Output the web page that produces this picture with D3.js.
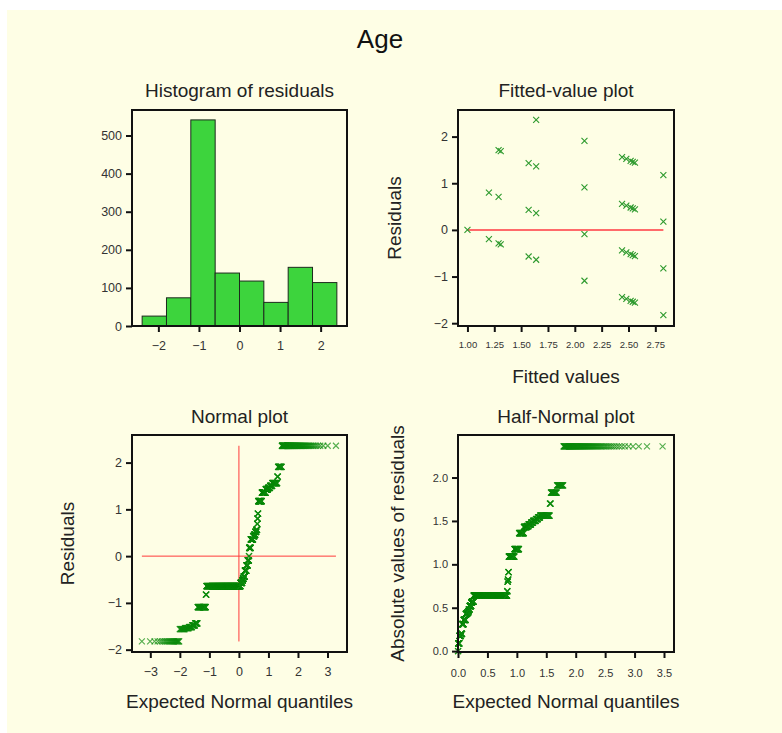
<!DOCTYPE html>
<html><head><meta charset="utf-8">
<script src="https://cdn.jsdelivr.net/npm/d3@7"></script>
<style>body{margin:0;background:#fff}svg{display:block}</style>
</head><body><svg id="c" width="782" height="733"></svg>
<script>
// ---------- data ----------
const chartTitle = "Age";
const histBinEdges = [-2.4, -1.8, -1.2, -0.6, 0, 0.6, 1.2, 1.8, 2.4];
const histCounts   = [26, 74, 541, 139, 118, 62, 154, 114];
const histXTicks   = [-2, -1, 0, 1, 2];
const histYTicks   = [0, 100, 200, 300, 400, 500];

const fittedValues = [1.00, 1.20, 1.20, 1.29, 1.29, 1.29, 1.31, 1.31,
  1.57, 1.57, 1.57, 1.64, 1.64, 1.64, 1.64, 2.09, 2.09, 2.09, 2.09,
  2.44, 2.44, 2.44, 2.44, 2.48, 2.48, 2.48, 2.48, 2.52, 2.52, 2.52, 2.52,
  2.54, 2.54, 2.54, 2.54, 2.56, 2.56, 2.56, 2.56, 2.825, 2.825, 2.825, 2.825];
const fittedResiduals = [0.00, 0.80, -0.20, 1.71, 0.71, -0.29, 1.69, -0.31,
  1.43, 0.43, -0.57, 2.36, 1.36, 0.36, -0.64, 1.91, 0.91, -0.09, -1.09,
  1.56, 0.56, -0.44, -1.44, 1.52, 0.52, -0.48, -1.48, 1.48, 0.48, -0.52, -1.52,
  1.46, 0.46, -0.54, -1.54, 1.44, 0.44, -0.56, -1.56, 1.175, 0.175, -0.825, -1.825];
const fittedXTicks = [1.00, 1.25, 1.50, 1.75, 2.00, 2.25, 2.50, 2.75];
const fittedYTicks = [-2, -1, 0, 1, 2];

// residual values (sorted) and how many observations share each value
const residualLevels = [-1.825, -1.56, -1.54, -1.52, -1.48, -1.44, -1.09, -0.825, -0.64,
  -0.57, -0.52, -0.48, -0.44, -0.31, -0.20, -0.09, 0.00, 0.175, 0.36, 0.43, 0.46, 0.52,
  0.56, 0.69, 0.80, 0.91, 1.175, 1.36, 1.43, 1.46, 1.50, 1.56, 1.70, 1.91, 2.36];
const residualCounts = [27, 14, 14, 14, 15, 15, 62, 5, 474,
  28, 12, 12, 20, 25, 20, 20, 3, 25, 35, 20, 12, 14,
  12, 4, 5, 5, 47, 45, 25, 20, 20, 40, 5, 24, 90];
const normalXTicks = [-3, -2, -1, 0, 1, 2, 3];
const normalYTicks = [-2, -1, 0, 1, 2];
const halfXTicks = [0, 0.5, 1.0, 1.5, 2.0, 2.5, 3.0, 3.5];
const halfYTicks = [0, 0.5, 1.0, 1.5, 2.0];

// ---------- helpers ----------
function invNorm(p) {
  const a = [-3.969683028665376e+01, 2.209460984245205e+02, -2.759285104469687e+02, 1.383577518672690e+02, -3.066479806614716e+01, 2.506628277459239e+00];
  const b = [-5.447609879822406e+01, 1.615858368580409e+02, -1.556989798598866e+02, 6.680131188771972e+01, -1.328068155288572e+01];
  const c = [-7.784894002430293e-03, -3.223964580411365e-01, -2.400758277161838e+00, -2.549732539343734e+00, 4.374664141464968e+00, 2.938163982698783e+00];
  const d = [7.784695709041462e-03, 3.224671290700398e-01, 2.445134137142996e+00, 3.754408661907416e+00];
  const pl = 0.02425;
  let q, r;
  if (p < pl) { q = Math.sqrt(-2 * Math.log(p));
    return (((((c[0]*q+c[1])*q+c[2])*q+c[3])*q+c[4])*q+c[5]) / ((((d[0]*q+d[1])*q+d[2])*q+d[3])*q+1); }
  if (p > 1 - pl) { q = Math.sqrt(-2 * Math.log(1 - p));
    return -(((((c[0]*q+c[1])*q+c[2])*q+c[3])*q+c[4])*q+c[5]) / ((((d[0]*q+d[1])*q+d[2])*q+d[3])*q+1); }
  q = p - 0.5; r = q * q;
  return (((((a[0]*r+a[1])*r+a[2])*r+a[3])*r+a[4])*r+a[5])*q / (((((b[0]*r+b[1])*r+b[2])*r+b[3])*r+b[4])*r+1);
}

const svg = d3.select("#c");
const FONT = "'Liberation Sans', Arial, sans-serif";
svg.append("rect").attr("x", 7).attr("y", 10).attr("width", 775).attr("height", 723).attr("fill", "#fefee5");

svg.append("text").attr("x", 380).attr("y", 48).attr("text-anchor", "middle")
  .attr("font-family", FONT).attr("font-size", 26).attr("fill", "#111").text(chartTitle);

const L = [132, 347], R = [458, 674], T = [326, 110], B = [652, 435];
const xMark = "M-3,-3L3,3M-3,3L3,-3";
const green = "#0c8a0c";
const TF = 19;

function panel(opts) {
  const g = svg.append("g");
  const { x, y } = opts;
  g.append("text").attr("x", (x.range()[0] + x.range()[1]) / 2).attr("y", opts.titleY)
    .attr("text-anchor", "middle").attr("font-family", FONT).attr("font-size", TF).attr("fill", "#222").text(opts.title);
  const content = g.append("g");
  opts.draw(content);
  const x0 = x.range()[0], x1 = x.range()[1], y0 = y.range()[0], y1 = y.range()[1];
  const xa = g.append("g").attr("transform", `translate(0,${y0})`)
    .call(d3.axisBottom(x).tickValues(opts.xTicks).tickSize(6).tickPadding(3).tickFormat(opts.xFmt));
  xa.select(".domain").remove();
  xa.selectAll("line").attr("stroke", "#111").attr("stroke-width", 2);
  xa.selectAll("text").attr("font-family", FONT).attr("font-size", opts.xFs).attr("fill", "#333")
    .attr("dy", null).attr("y", opts.xLabY - y0);
  const ya = g.append("g").attr("transform", `translate(${x0},0)`)
    .call(d3.axisLeft(y).tickValues(opts.yTicks).tickSize(6).tickPadding(4).tickFormat(opts.yFmt));
  ya.select(".domain").remove();
  ya.selectAll("line").attr("stroke", "#111").attr("stroke-width", 2);
  ya.selectAll("text").attr("font-family", FONT).attr("font-size", opts.yFs).attr("fill", "#333");
  g.append("rect").attr("x", x0).attr("y", y1).attr("width", x1 - x0).attr("height", y0 - y1)
    .attr("fill", "none").attr("stroke", "#111").attr("stroke-width", 2);
  if (opts.xTitle) g.append("text").attr("x", (x0 + x1) / 2).attr("y", opts.xTitleY).attr("text-anchor", "middle")
    .attr("font-family", FONT).attr("font-size", TF).attr("fill", "#222").text(opts.xTitle);
  if (opts.yTitle) g.append("text").attr("transform", `translate(${opts.yTitleX},${(y0 + y1) / 2}) rotate(-90)`)
    .attr("text-anchor", "middle").attr("font-family", FONT).attr("font-size", TF).attr("fill", "#222").text(opts.yTitle);
}

// ---------- histogram ----------
{
  const x = d3.scaleLinear().domain([-2.65, 2.65]).range(L);
  const y = d3.scaleLinear().domain([0, 567]).range(T);
  panel({ x, y, title: "Histogram of residuals", titleY: 97,
    xTicks: histXTicks, yTicks: histYTicks, xFmt: d3.format("d"), yFmt: d3.format("d"),
    xFs: 12.5, yFs: 12.5, xLabY: 350,
    draw: g => {
      g.selectAll("rect").data(histCounts).join("rect")
        .attr("x", (d, i) => x(histBinEdges[i])).attr("width", (d, i) => x(histBinEdges[i + 1]) - x(histBinEdges[i]))
        .attr("y", d => y(d)).attr("height", d => y(0) - y(d))
        .attr("fill", "#3dd43d").attr("stroke", "#1d2a1d").attr("stroke-width", 1);
    } });
}

// ---------- fitted-value plot ----------
{
  const x = d3.scaleLinear().domain([0.912, 2.924]).range(R);
  const y = d3.scaleLinear().domain([-2.06, 2.57]).range(T);
  panel({ x, y, title: "Fitted-value plot", titleY: 97,
    xTicks: fittedXTicks, yTicks: fittedYTicks, xFmt: d3.format(".2f"), yFmt: d3.format("d"),
    xFs: 9.5, yFs: 12.5, xLabY: 348,
    xTitle: "Fitted values", xTitleY: 383, yTitle: "Residuals", yTitleX: 401,
    draw: g => {
      g.append("line").attr("x1", x(d3.min(fittedValues))).attr("x2", x(d3.max(fittedValues)))
        .attr("y1", y(0)).attr("y2", y(0)).attr("stroke", "#ff6a6a").attr("stroke-width", 2);
      g.selectAll("path.m").data(fittedValues).join("path").attr("class", "m")
        .attr("transform", (d, i) => `translate(${x(d)},${y(fittedResiduals[i])})`)
        .attr("d", xMark).attr("fill", "none").attr("stroke", "#2e9a2e").attr("stroke-width", 1.1);
    } });
}

// expand residuals
const allRes = [];
residualLevels.forEach((v, i) => { for (let k = 0; k < residualCounts[i]; k++) allRes.push(v); });
const N = allRes.length;
const normalQ = allRes.map((v, i) => invNorm((i + 1 - 0.375) / (N + 0.25)));
const absRes = allRes.map(Math.abs).sort((a, b) => a - b);
const halfQ = absRes.map((v, i) => invNorm((N + i + 1 - 0.125) / (2 * N + 0.5)));

// ---------- normal plot ----------
{
  const x = d3.scaleLinear().domain([-3.62, 3.66]).range(L);
  const y = d3.scaleLinear().domain([-2.05, 2.59]).range(B);
  panel({ x, y, title: "Normal plot", titleY: 423,
    xTicks: normalXTicks, yTicks: normalYTicks, xFmt: d3.format("d"), yFmt: d3.format("d"),
    xFs: 12.5, yFs: 12.5, xLabY: 676,
    xTitle: "Expected Normal quantiles", xTitleY: 708, yTitle: "Residuals", yTitleX: 74,
    draw: g => {
      g.append("line").attr("x1", x(d3.min(normalQ))).attr("x2", x(d3.max(normalQ)))
        .attr("y1", y(0)).attr("y2", y(0)).attr("stroke", "#ff3a3a").attr("stroke-width", 1);
      g.append("line").attr("x1", x(0)).attr("x2", x(0))
        .attr("y1", y(d3.min(allRes))).attr("y2", y(d3.max(allRes))).attr("stroke", "#ff3a3a").attr("stroke-width", 1);
      g.selectAll("path.m").data(allRes).join("path").attr("class", "m")
        .attr("transform", (d, i) => `translate(${x(normalQ[i])},${y(d)})`)
        .attr("d", xMark).attr("fill", "none").attr("stroke", green).attr("stroke-width", 1.1).attr("stroke-opacity", 0.7);
    } });
}

// ---------- half-normal plot ----------
{
  const x = d3.scaleLinear().domain([0, 3.67]).range(R);
  const y = d3.scaleLinear().domain([-0.01, 2.49]).range(B);
  panel({ x, y, title: "Half-Normal plot", titleY: 423,
    xTicks: halfXTicks, yTicks: halfYTicks, xFmt: d3.format(".1f"), yFmt: d3.format(".1f"),
    xFs: 11, yFs: 11, xLabY: 677,
    xTitle: "Expected Normal quantiles", xTitleY: 708, yTitle: "Absolute values of residuals", yTitleX: 404,
    draw: g => {
      g.selectAll("path.m").data(absRes).join("path").attr("class", "m")
        .attr("transform", (d, i) => `translate(${x(halfQ[i])},${y(d)})`)
        .attr("d", xMark).attr("fill", "none").attr("stroke", green).attr("stroke-width", 1.1).attr("stroke-opacity", 0.7);
    } });
}
</script></body></html>
